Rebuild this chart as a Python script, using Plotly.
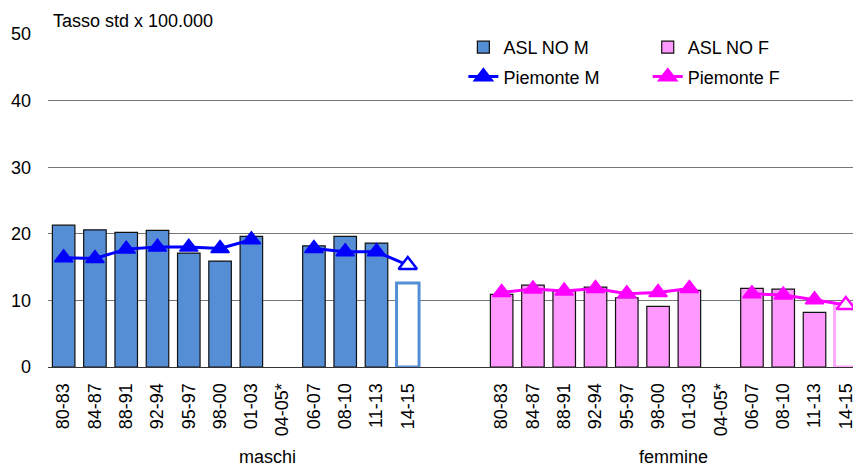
import plotly.graph_objects as go

# Periods shown under each sex group ("04-05*" has no data)
periods = ["80-83", "84-87", "88-91", "92-94", "95-97", "98-00",
           "01-03", "04-05*", "06-07", "08-10", "11-13", "14-15"]

# Standardised rates x 100.000
asl_m = [21.3, 20.6, 20.2, 20.5, 17.1, 15.9, 19.6, None, 18.2, 19.6, 18.6, 12.6]
asl_f = [10.9, 12.3, 11.4, 12.0, 10.4, 9.1, 11.5, None, 11.8, 11.7, 8.2, 9.5]
piem_m = [16.4, 16.3, 17.7, 18.0, 18.0, 17.8, 19.1, None, 17.8, 17.3, 17.3, 15.3]
piem_f = [11.2, 11.7, 11.4, 11.8, 11.0, 11.2, 11.8, None, 11.0, 10.8, 10.1, 9.3]

# Last period is provisional: drawn hollow
provisional = [False] * 11 + [True]

group_names = ["maschi", "femmine"]

FONT = "Arial, Liberation Sans, sans-serif"
FS = 18
BLUE_FILL = "#558ED5"
PINK_FILL = "#FF99FF"
PINK_EDGE = "#FFAAFF"

# x slots: 12 periods for men, two empty slots, 12 periods for women
x_m = list(range(len(periods)))
x_f = [i + len(periods) + 2 for i in range(len(periods))]


def bar_style(fill, hollow_edge):
    return dict(
        color=["white" if p else fill for p in provisional],
        line=dict(
            color=[hollow_edge if p else "#111111" for p in provisional],
            width=[3 if p else 1.2 for p in provisional],
        ),
    )


def marker_style(col):
    return dict(
        symbol="triangle-up",
        size=16,
        color=["white" if p else col for p in provisional],
        line=dict(color=col, width=[2.5 if p else 1.5 for p in provisional]),
    )


fig = go.Figure()

fig.add_trace(go.Bar(
    x=x_m, y=asl_m, name="ASL NO M", width=0.72,
    marker=bar_style(BLUE_FILL, BLUE_FILL),
    legend="legend", legendgroup="am",
))
fig.add_trace(go.Bar(
    x=x_f, y=asl_f, name="ASL NO F", width=0.72,
    marker=bar_style(PINK_FILL, PINK_EDGE),
    legend="legend2", legendgroup="af",
))
fig.add_trace(go.Scatter(
    x=x_m, y=piem_m, name="Piemonte M", mode="lines+markers",
    line=dict(color="#0000FF", width=3), connectgaps=False,
    marker=marker_style("#0000FF"),
    legend="legend", legendgroup="pm",
))
fig.add_trace(go.Scatter(
    x=x_f, y=piem_f, name="Piemonte F", mode="lines+markers",
    line=dict(color="#FF00FF", width=3), connectgaps=False,
    marker=marker_style("#FF00FF"),
    legend="legend2", legendgroup="pf",
))

legend_common = dict(
    font=dict(family=FONT, size=FS, color="black"),
    bgcolor="rgba(0,0,0,0)",
    yanchor="top", y=1.015, xanchor="left",
    tracegroupgap=3, traceorder="grouped",
)

fig.update_layout(
    width=856, height=466,
    margin=dict(l=48, r=0, t=34, b=99),
    paper_bgcolor="white", plot_bgcolor="white",
    barmode="overlay",
    font=dict(family=FONT, size=FS, color="black"),
    showlegend=True,
    legend=dict(x=0.516, **legend_common),
    legend2=dict(x=0.745, **legend_common),
    xaxis=dict(
        range=[-0.5, 25.23],
        tickmode="array",
        tickvals=x_m + x_f,
        ticktext=periods + periods,
        tickangle=-90,
        ticks="",
        ticklabelstandoff=8,
        ticklabeloverflow="allow",
        tickfont=dict(family=FONT, size=FS, color="black"),
        showgrid=False, zeroline=False,
        showline=True, linecolor="#333333", linewidth=1.2,
    ),
    yaxis=dict(
        range=[0, 50],
        tickvals=[0, 10, 20, 30, 40, 50],
        ticks="",
        ticklabelstandoff=16,
        tickfont=dict(family=FONT, size=FS, color="black"),
        showgrid=True, gridcolor="#767676", gridwidth=1,
        zeroline=False, showline=False,
    ),
)

# Group labels under the period labels
for xc, label in zip([6.5, (x_f[0] + x_f[-1]) / 2], group_names):
    fig.add_annotation(
        x=xc, xref="x", y=-0.27, yref="paper",
        text=label, showarrow=False, yanchor="middle",
        font=dict(family=FONT, size=FS, color="black"),
    )

fig.add_annotation(
    x=0.004, xref="paper", y=1.039, yref="paper",
    text="Tasso std x 100.000", showarrow=False,
    xanchor="left", yanchor="middle",
    font=dict(family=FONT, size=FS, color="black"),
)

fig.write_html("out.html")
